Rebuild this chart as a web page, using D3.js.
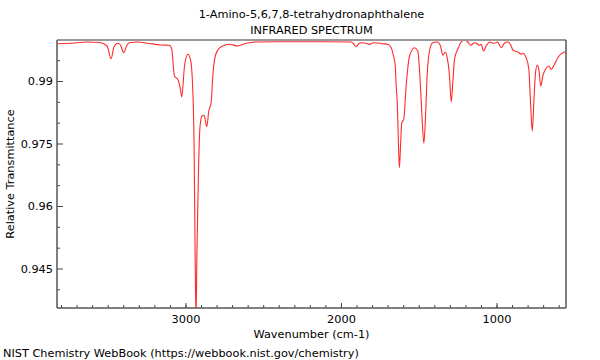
<!DOCTYPE html>
<html>
<head>
<meta charset="utf-8">
<script src="https://cdn.jsdelivr.net/npm/d3@7"></script>
<style>
  body { margin: 0; background: #fff; }
  text { font-family: "DejaVu Sans", sans-serif; fill: #000; }
</style>
</head>
<body>
<script>
// spectrum (wavenumber in cm-1, relative transmittance)
const wavenumbers = [
  3823, 3746, 3630, 3553, 3504, 3478, 3460, 3435, 3418, 3397, 3379, 3360,
  3307, 3242, 3156, 3103, 3088, 3071, 3050, 3032, 3024, 3006, 2985, 2968,
  2957, 2945, 2938, 2932, 2926, 2916, 2908, 2900, 2893, 2880, 2863, 2850,
  2835, 2824, 2813, 2792, 2760, 2717, 2664, 2610, 2545, 2395, 2183, 1934,
  1920, 1902, 1887, 1870, 1838, 1817, 1791, 1731, 1699, 1677, 1662, 1651,
  1645, 1638, 1630, 1624, 1617, 1609, 1596, 1581, 1559, 1527, 1506, 1489,
  1478, 1467, 1457, 1446, 1431, 1410, 1381, 1360, 1345, 1330, 1317, 1302,
  1291, 1281, 1270, 1249, 1227, 1206, 1184, 1167, 1141, 1130, 1109, 1098,
  1084, 1066, 1045, 1013, 993, 970, 949, 927, 905, 895, 863, 841,
  831, 809, 792, 781, 770, 760, 749, 738, 728, 715, 702, 685,
  664, 648, 627, 606, 574, 556
];
const transmittance = [
  0.99895, 0.99905, 0.99936, 0.99924, 0.9984, 0.99535, 0.99816, 0.99905, 0.99864, 0.99679, 0.9984, 0.99919,
  0.99936, 0.99905, 0.99864, 0.99857, 0.99761, 0.9912, 0.99041, 0.98801, 0.98616, 0.9936, 0.99641, 0.99521,
  0.9912, 0.97584, 0.94944, 0.93264, 0.94944, 0.96864, 0.97824, 0.98088, 0.9816, 0.98177, 0.97903, 0.9828,
  0.98479, 0.9912, 0.99521, 0.99744, 0.9984, 0.99881, 0.9984, 0.99905, 0.99936, 0.99943, 0.99943, 0.99936,
  0.999, 0.99823, 0.99888, 0.99919, 0.99905, 0.99881, 0.99919, 0.99895, 0.99881, 0.99799, 0.996, 0.9936,
  0.9888, 0.98479, 0.9744, 0.96919, 0.9744, 0.97999, 0.98081, 0.9888, 0.996, 0.99799, 0.9972, 0.9888,
  0.98081, 0.97505, 0.98081, 0.9912, 0.9972, 0.99919, 0.99936, 0.9984, 0.99617, 0.99696, 0.99559, 0.9912,
  0.98496, 0.98959, 0.99521, 0.99761, 0.99936, 0.99984, 0.99936, 0.99857, 0.99919, 0.99905, 0.99857, 0.99881,
  0.9972, 0.9984, 0.99936, 0.99905, 0.99936, 0.99799, 0.99905, 0.99936, 0.9984, 0.99744, 0.99696, 0.99641,
  0.99665, 0.99559, 0.99281, 0.98479, 0.978, 0.98479, 0.99199, 0.99377, 0.99281, 0.9888, 0.9912, 0.99281,
  0.9936, 0.99281, 0.99401, 0.99559, 0.99679, 0.99696
];

const xMajorTicks = [3000, 2000, 1000];
const xMinorTicks = d3.range(600, 3900, 100);
const yMajorTicks = [0.945, 0.96, 0.975, 0.99];
const yMinorTicks = [0.94, 0.95, 0.955, 0.965, 0.97, 0.98, 0.985, 0.995];

const title = "1-Amino-5,6,7,8-tetrahydronaphthalene";
const subtitle = "INFRARED SPECTRUM";
const footer = "NIST Chemistry WebBook (https://webbook.nist.gov/chemistry)";

const margin = {top: 40, right: 34, bottom: 52, left: 57},
      W = 600, H = 360,
      width = W - margin.left - margin.right,
      height = H - margin.top - margin.bottom;

const fontSize = "11.3px";

const svg = d3.select("body").append("svg")
  .attr("width", W)
  .attr("height", H);

const g = svg.append("g")
  .attr("transform", `translate(${margin.left},${margin.top})`);

const x = d3.scaleLinear().domain([3826, 553]).range([0, width]);
const y = d3.scaleLinear().domain([0.93552, 0.99984]).range([height, 0]);

// clip so the deep band runs off the bottom like the original
g.append("clipPath").attr("id", "plot-clip")
  .append("rect").attr("width", width).attr("height", height);

const points = wavenumbers.map((w, i) => [w, transmittance[i]]);
const line = d3.line()
  .x(d => x(d[0]))
  .y(d => y(d[1]))
  .curve(d3.curveMonotoneX);

g.append("path")
  .datum(points)
  .attr("clip-path", "url(#plot-clip)")
  .attr("fill", "none")
  .attr("stroke", "#ff2a2a")
  .attr("stroke-width", 1.1)
  .attr("d", line);

// --- axes, ticks pointing inward ---
const xMinor = g.append("g")
  .attr("transform", `translate(0,${height})`)
  .call(d3.axisBottom(x).tickValues(xMinorTicks).tickSize(-3).tickFormat(""));
const xMajor = g.append("g")
  .attr("transform", `translate(0,${height})`)
  .call(d3.axisBottom(x).tickValues(xMajorTicks).tickSize(-5).tickPadding(7).tickFormat(d3.format("d")));

const yMinor = g.append("g")
  .call(d3.axisLeft(y).tickValues(yMinorTicks).tickSize(-3).tickFormat(""));
const yMajor = g.append("g")
  .call(d3.axisLeft(y).tickValues(yMajorTicks).tickSize(-6).tickPadding(4).tickFormat(d => String(d)));

[xMinor, xMajor, yMinor, yMajor].forEach(a => {
  a.select(".domain").remove();
  a.selectAll(".tick line").attr("stroke", "#444");
  a.selectAll(".tick text")
    .style("font-family", "DejaVu Sans")
    .style("font-size", fontSize)
    .attr("fill", "#000");
});

// frame
g.append("line").attr("x1", 0).attr("x2", width).attr("y1", 0).attr("y2", 0)
  .attr("stroke", "#999").attr("stroke-width", 2);
g.append("line").attr("x1", 0).attr("x2", 0).attr("y1", 0).attr("y2", height)
  .attr("stroke", "#555").attr("stroke-width", 1.5);
g.append("line").attr("x1", width).attr("x2", width).attr("y1", 0).attr("y2", height)
  .attr("stroke", "#555").attr("stroke-width", 1.5);
g.append("line").attr("x1", 0).attr("x2", width).attr("y1", height).attr("y2", height)
  .attr("stroke", "#555").attr("stroke-width", 1.5);

// --- texts ---
const cx = margin.left + width / 2;
svg.append("text").attr("x", cx).attr("y", 18).attr("text-anchor", "middle")
  .style("font-size", fontSize).text(title);
svg.append("text").attr("x", cx).attr("y", 34).attr("text-anchor", "middle")
  .style("font-size", fontSize).text(subtitle);
svg.append("text").attr("x", cx).attr("y", 338).attr("text-anchor", "middle")
  .style("font-size", fontSize).text("Wavenumber (cm-1)");
svg.append("text")
  .attr("transform", `translate(14,${margin.top + height / 2}) rotate(-90)`)
  .attr("text-anchor", "middle")
  .style("font-size", fontSize).text("Relative Transmittance");
svg.append("text").attr("x", 3).attr("y", 357)
  .style("font-size", fontSize).text(footer);
</script>
</body>
</html>
